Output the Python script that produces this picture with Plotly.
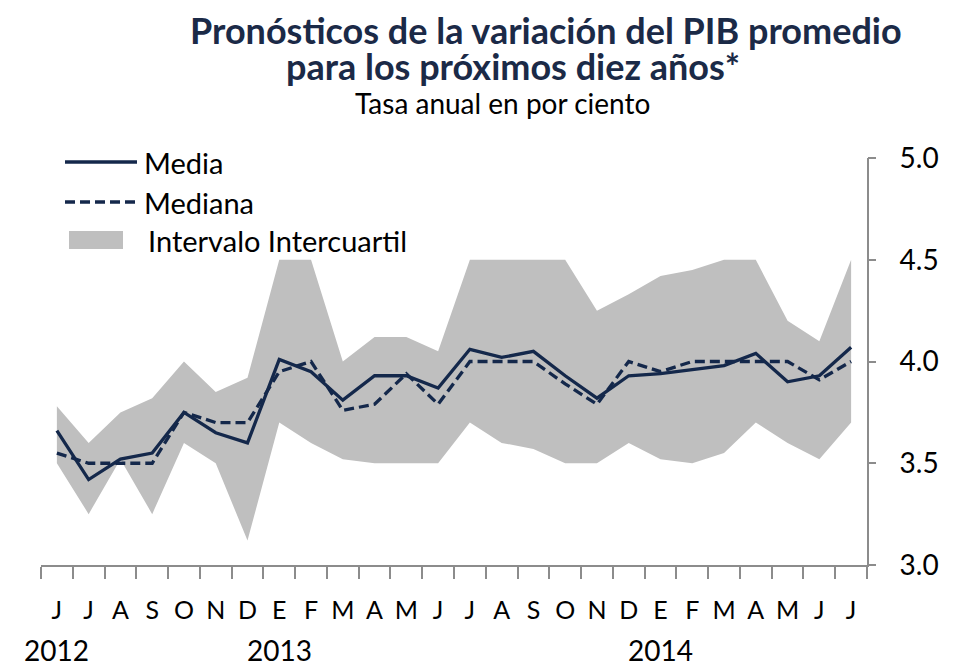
import plotly.graph_objects as go

# months from June 2012 to July 2014 (Spanish initials)
months = ["J", "J", "A", "S", "O", "N", "D",
          "E", "F", "M", "A", "M", "J", "J", "A", "S", "O", "N", "D",
          "E", "F", "M", "A", "M", "J", "J"]
years = ["2012", "2013", "2014"]
year_pos = [0, 7, 19]

media = [3.66, 3.42, 3.52, 3.55, 3.75, 3.65, 3.60,
         4.01, 3.95, 3.81, 3.93, 3.93, 3.87, 4.06, 4.02, 4.05, 3.93, 3.82, 3.93,
         3.94, 3.96, 3.98, 4.04, 3.90, 3.93, 4.07]
mediana = [3.55, 3.50, 3.50, 3.50, 3.75, 3.70, 3.70,
           3.95, 4.00, 3.76, 3.79, 3.94, 3.79, 4.00, 4.00, 4.00, 3.89, 3.79, 4.00,
           3.95, 4.00, 4.00, 4.00, 4.00, 3.91, 4.00]
q_low = [3.50, 3.25, 3.52, 3.25, 3.60, 3.50, 3.12,
         3.70, 3.60, 3.52, 3.50, 3.50, 3.50, 3.70, 3.60, 3.57, 3.50, 3.50, 3.60,
         3.52, 3.50, 3.55, 3.70, 3.60, 3.52, 3.70]
q_high = [3.78, 3.60, 3.75, 3.82, 4.00, 3.85, 3.92,
          4.50, 4.50, 4.00, 4.12, 4.12, 4.05, 4.50, 4.50, 4.50, 4.50, 4.25, 4.33,
          4.42, 4.45, 4.50, 4.50, 4.20, 4.10, 4.50]

idx = list(range(len(months)))
navy = "#14284b"
grey = "#bfbfbf"
axis_col = "#8c8c8c"
font = "Lato"

# plot area in page pixels (page has an 8px body margin)
X0, X1, Y0, Y1 = 41, 867, 158, 565
def px(x):
    return (x - X0) / (X1 - X0)
def py(y):
    return (Y1 - y) / (Y1 - Y0)

fig = go.Figure()
fig.add_trace(go.Scatter(x=idx, y=q_low, mode="lines", line=dict(width=0, color=grey),
                         showlegend=False, hoverinfo="skip"))
fig.add_trace(go.Scatter(x=idx, y=q_high, mode="lines", line=dict(width=0, color=grey),
                         fill="tonexty", fillcolor=grey, name="Intervalo Intercuartil"))
fig.add_trace(go.Scatter(x=idx, y=mediana, mode="lines", name="Mediana",
                         line=dict(color=navy, width=3.3, dash="10px,5px")))
# media on the overlaid axis (same range) so that axis gets drawn with the short visible ticks
fig.add_trace(go.Scatter(x=idx, y=media, mode="lines", name="Media", yaxis="y2",
                         line=dict(color=navy, width=3.3)))

fig.update_xaxes(range=[-0.5, len(months) - 0.5], tickmode="array", tickvals=idx, ticktext=months,
                 ticks="outside", ticklen=22, tickcolor="rgba(0,0,0,0)",
                 minor=dict(tickmode="array", tickvals=[i - 0.5 for i in range(len(months) + 1)],
                            ticks="outside", ticklen=12, tickcolor=axis_col, tickwidth=1.5, showgrid=False),
                 showline=True, linecolor=axis_col, linewidth=2, showgrid=False, zeroline=False,
                 tickfont=dict(family=font, size=25, color="black"))
# labels pushed away with a transparent long tick; visible short ticks come from yaxis2
fig.update_layout(
    yaxis=dict(range=[3, 5], dtick=0.5, tickformat=".1f", side="right",
               ticks="outside", ticklen=25, tickcolor="rgba(0,0,0,0)",
               showline=True, linecolor=axis_col, linewidth=2, showgrid=False, zeroline=False,
               tickfont=dict(family=font, size=28, color="black")),
    yaxis2=dict(range=[3, 5], dtick=0.5, side="right", overlaying="y", anchor="x",
                ticks="outside", ticklen=8, tickcolor=axis_col, tickwidth=1.5,
                showticklabels=False, showline=False, showgrid=False, zeroline=False),
)

for y, p in zip(years, year_pos):
    fig.add_annotation(x=p, y=py(650), xref="x", yref="paper", text=y, showarrow=False,
                       yanchor="middle", font=dict(family=font, size=28, color="black"))

# titles
fig.add_annotation(x=px(546), y=py(30), xref="paper", yref="paper", showarrow=False,
                   xanchor="center", yanchor="middle",
                   text="<b>Pronósticos de la variación del PIB promedio</b>",
                   font=dict(family=font, size=36, color="#1b2a47"))
fig.add_annotation(x=px(513), y=py(66), xref="paper", yref="paper", showarrow=False,
                   xanchor="center", yanchor="middle",
                   text="<b>para los próximos diez años*</b>",
                   font=dict(family=font, size=36, color="#1b2a47"))
fig.add_annotation(x=px(503), y=py(103), xref="paper", yref="paper", showarrow=False,
                   xanchor="center", yanchor="middle",
                   text="Tasa anual en por ciento",
                   font=dict(family=font, size=28, color="black"))

# legend keys
fig.add_shape(type="line", xref="paper", yref="paper", x0=px(65), x1=px(137), y0=py(162), y1=py(162),
              line=dict(color=navy, width=3.3))
fig.add_shape(type="line", xref="paper", yref="paper", x0=px(65), x1=px(137), y0=py(202), y1=py(202),
              line=dict(color=navy, width=3.3, dash="10px,5px"))
fig.add_shape(type="rect", xref="paper", yref="paper", x0=px(69), x1=px(123), y0=py(249), y1=py(231),
              line=dict(width=0), fillcolor=grey)
for label, xx, yy in [("Media", 142, 162), ("Mediana", 142, 202), ("Intervalo Intercuartil", 146, 240)]:
    fig.add_annotation(x=px(xx), y=py(yy), xref="paper", yref="paper", text=label, showarrow=False,
                       xanchor="left", yanchor="middle", font=dict(family=font, size=29, color="black"))

fig.update_layout(
    width=960, height=662,
    margin=dict(l=X0 - 8, r=968 - X1, t=Y0 - 8, b=670 - Y1),
    plot_bgcolor="white", paper_bgcolor="white",
    showlegend=False,
)

fig.write_html("out.html")
